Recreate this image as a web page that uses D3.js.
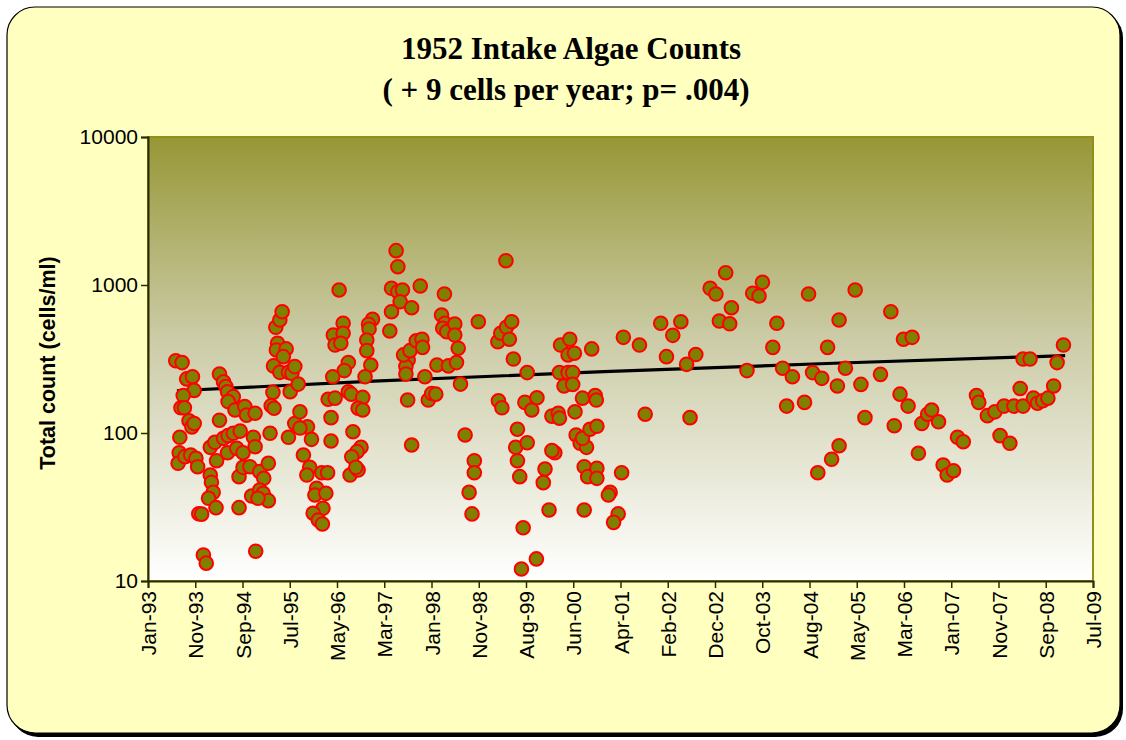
<!DOCTYPE html>
<html>
<head>
<meta charset="utf-8">
<script src="https://cdn.jsdelivr.net/npm/d3@7"></script>
<style>
  html, body { margin: 0; padding: 0; background: #ffffff; }
  svg { display: block; }
</style>
</head>
<body>
<svg id="chart" width="1126" height="740"></svg>
<script>
// ---------------- DATA ----------------
const titleLines = ["1952 Intake Algae Counts", "( + 9 cells per year; p= .004)"];
const yAxisTitle = "Total count (cells/ml)";

const xTickLabels = ["Jan-93","Nov-93","Sep-94","Jul-95","May-96","Mar-97","Jan-98","Nov-98","Aug-99","Jun-00",
  "Apr-01","Feb-02","Dec-02","Oct-03","Aug-04","May-05","Mar-06","Jan-07","Nov-07","Sep-08","Jul-09"];
const yTickValues = [10, 100, 1000, 10000];

// sample dates (decimal years) and total counts (cells/ml)
const sampleYears = [
  1993.56,1993.67,1993.75,1993.85,1993.88,1993.69,1993.65,1993.71,1993.79,1993.84,1993.88,1993.63,1993.62,1993.60,
  1993.72,1993.82,1993.91,1993.94,1993.96,1994.01,1994.04,1994.09,1994.16,1994.18,1994.21,1994.13,1994.26,1994.16,
  1994.24,1994.27,1994.32,1994.32,1994.39,1994.43,1994.46,1994.56,1994.47,1994.59,1994.39,1994.47,1994.56,1994.68,
  1994.46,1994.62,1994.73,1994.76,1994.79,1994.94,1994.91,1994.94,1994.66,1994.73,1994.85,1994.66,1994.95,1995.02,
  1995.09,1995.17,1994.88,1995.02,1995.08,1995.17,1994.99,1995.25,1995.22,1995.27,1995.20,1995.30,1995.37,1995.41,
  1995.33,1995.31,1995.48,1995.43,1995.26,1995.37,1995.52,1995.58,1995.55,1995.52,1995.63,
  1997.39,1997.42,1996.40,1997.31,1997.42,1997.50,1997.46,1997.31,1997.66,1997.81,1998.23,1997.28,1996.47,1996.30,
  1996.47,1996.33,1996.43,1996.98,1996.91,1996.92,1996.88,1996.88,1996.56,1996.49,1996.29,1996.95,1996.85,1995.63,
  1995.69,1996.21,1996.33,1996.56,1996.61,1996.81,1996.73,1996.81,1996.26,1995.72,1996.64,1996.26,1995.85,1995.72,
  1995.92,1995.78,1995.89,1995.84,1996.10,1996.20,1996.01,1995.98,1996.17,1996.12,1995.95,1996.04,1996.11,1996.78,
  1996.71,1996.62,1996.59,1996.73,1996.69,1997.60,1997.56,1997.52,1997.56,1997.63,1997.74,1997.84,1997.85,1997.89,
  1997.59,1997.66,1997.95,1998.01,1998.08,1998.10,1998.18,1998.24,1998.20,1998.27,1998.30,
  1999.30,1998.41,1998.41,1998.47,1998.44,1998.51,1998.82,1999.16,1999.21,1999.31,1999.40,1999.36,1999.43,1999.67,
  1999.17,1999.23,1999.63,1999.75,1999.84,1998.59,1998.75,1998.75,1998.66,1998.71,1999.50,1999.47,1999.67,1999.50,
  1999.54,1999.60,1999.57,1999.83,1999.98,1999.95,2000.05,2000.10,2000.21,2000.23,2000.15,2000.10,2000.25,2000.41,
  2000.38,2000.49,2000.23,2000.38,2000.46,2000.31,2000.46,2000.79,2000.63,2000.85,2000.50,2000.52,2000.59,2000.70,
  2000.63,2000.76,2000.88,2000.66,2000.72,2000.88,2000.88,2000.66,2000.87,
  2001.34,2001.62,2001.72,2001.31,2001.11,2001.08,2001.25,2001.17,2001.99,2002.34,2002.20,2002.09,2002.60,2002.44,
  2002.50,2002.85,2002.95,2003.12,2003.22,2003.01,2003.19,2003.49,
  2003.59,2003.76,2003.70,2004.01,2003.94,2004.11,2004.28,2004.18,2004.49,2004.56,2004.63,2004.79,2004.89,2005.09,
  2005.20,2005.06,2004.72,2004.96,2005.09,2005.37,2005.47,2005.54,2005.81,2005.99,2006.05,2006.15,
  2006.21,2006.36,2006.29,2006.47,2006.53,2006.63,2006.70,2006.82,2006.90,2006.97,2007.08,2007.15,2007.25,2007.48,
  2007.52,2007.67,2007.80,2007.89,2008.06,2007.96,2008.13,2008.29,2008.24,2008.29,2008.41,2008.47,2008.54,2008.63,
  2008.72,2008.82,2008.88,2008.99
];
const cellCounts = [
  308,299,232,240,194,179,148,148,121,110,116,93.5,73.6,62.4,
  69.2,71,67.5,59.2,28.5,28.3,15.0,13.2,52,46.4,39.7,36.2,31.3,80,
  86.5,65,122,250,222,206,190,176,163,143,92,96,99.5,103,
  73.6,78.8,73.6,151,132,136,93.5,80.8,50.7,58.6,59.2,31.3,15.9,54.8,
  49.4,62.4,37.5,41.2,39.1,34.9,36.2,188,153,147,99.5,518,580,660,
  404,364,370,328,284,257,257,253,190,93.5,116,
  1706,1329,925,950,901,925,771,660,702,985,869,489,551,459,
  472,393,404,587,543,504,425,360,299,264,240,288,240,281,
  214,169,172,190,183,174,147,143,127,139,102,88.3,110,108,
  90.6,71,58.6,52,53.9,53.9,42.3,38.1,39.1,31,28.7,25.8,24.3,80,
  74.8,69,52,56.2,58.6,311,281,337,250,360,420,430,379,240,
  167,83,167,185,183,288,627,551,510,484,284,
  1460,545,459,374,299,214,565,414,472,518,565,430,316,256,
  165,148,161,143,173,97,65,53.9,39.7,28.4,106,80,86,65,
  50.7,22.9,12.05,14.1,57.1,46.2,30.2,130,136,126,73.6,76,393,430,
  337,346,256,256,256,208,213,370,172,179,139,97,85.2,80,
  92,106,111,59.2,50.7,57.7,49.4,30.2,167,
  443,393,134,53.9,39.7,38.1,28.4,24.9,551,565,457,328,339,291,
  127,950,869,1211,702,571,547,264,
  879,1043,843,551,379,274,240,152,161,869,256,234,379,580,
  274,208,53.9,66.4,82,925,213,127,249,660,112,183,
  430,443,152,72.9,116,134,143,119,60.8,52,55.6,93.5,87.3,179,
  161,131,139,96,85.2,152,152,152,200,316,316,172,159,165,
  172,208,299,393
];

// linear trend line
const trendYears = [1993.58, 1997.0, 2001.0, 2005.0, 2009.02];
const trendCounts = [193, 224, 260, 296, 333];

// ---------------- HELPERS ----------------
function yearToDate(y) {
  const Y = Math.floor(y);
  const s = Date.UTC(Y, 0, 1), e = Date.UTC(Y + 1, 0, 1);
  return new Date(s + (y - Y) * (e - s));
}
const DAY = 86400000;
const axisStart = new Date(Date.UTC(1993, 0, 29));
const tickStepDays = 300;
const tickDates = xTickLabels.map((_, i) => new Date(axisStart.getTime() + i * tickStepDays * DAY));

// ---------------- LAYOUT ----------------
const svg = d3.select("#chart");
const plot = { left: 148, right: 1093, top: 137, bottom: 581 };

const defs = svg.append("defs");
const grad = defs.append("linearGradient").attr("id", "plotGrad")
  .attr("x1", 0).attr("y1", 0).attr("x2", 0).attr("y2", 1);
grad.append("stop").attr("offset", "0%").attr("stop-color", "#979736");
grad.append("stop").attr("offset", "45%").attr("stop-color", "#cbcba6");
grad.append("stop").attr("offset", "100%").attr("stop-color", "#ffffff");

// chart area: shadow + rounded panel
svg.append("rect").attr("x", 10).attr("y", 10).attr("width", 1113).attr("height", 727)
  .attr("rx", 28).attr("ry", 28).attr("fill", "#000");
svg.append("rect").attr("x", 7).attr("y", 7).attr("width", 1113).attr("height", 726)
  .attr("rx", 28).attr("ry", 28).attr("fill", "#ffffc0").attr("stroke", "#000").attr("stroke-width", 1.2);

// scales
const x = d3.scaleTime()
  .domain([tickDates[0], tickDates[tickDates.length - 1]])
  .range([plot.left, plot.right]);
const y = d3.scaleLog().domain([10, 10000]).range([plot.bottom, plot.top]);

// plot background
svg.append("rect")
  .attr("x", plot.left).attr("y", plot.top)
  .attr("width", plot.right - plot.left).attr("height", plot.bottom - plot.top)
  .attr("fill", "url(#plotGrad)")
  .attr("stroke", "#8f8f1c").attr("stroke-width", 2);

// trend line
const line = d3.line().x(d => x(yearToDate(d[0]))).y(d => y(d[1]));
svg.append("path")
  .datum(trendYears.map((t, i) => [t, trendCounts[i]]))
  .attr("d", line)
  .attr("fill", "none").attr("stroke", "#000").attr("stroke-width", 3.2);

// points
const pts = sampleYears.map((t, i) => ({ t, v: cellCounts[i] }));
svg.append("g").selectAll("circle").data(pts).join("circle")
  .attr("cx", d => x(yearToDate(d.t)))
  .attr("cy", d => y(d.v))
  .attr("r", 6.8)
  .attr("fill", "#808000")
  .attr("stroke", "#ff0000")
  .attr("stroke-width", 2);

// axes
const fontFam = "'Liberation Sans', Arial, sans-serif";
const yAxis = svg.append("g").attr("transform", `translate(${plot.left},0)`)
  .call(d3.axisLeft(y).tickValues(yTickValues).tickFormat(d3.format("d")).tickSize(7).tickPadding(3));
const xAxis = svg.append("g").attr("transform", `translate(0,${plot.bottom})`)
  .call(d3.axisBottom(x).tickValues(tickDates).tickFormat((d, i) => xTickLabels[i]).tickSize(7));

[yAxis, xAxis].forEach(g => {
  g.select(".domain").attr("stroke", "#2b2b00").attr("stroke-width", 2);
  g.selectAll(".tick line").attr("stroke", "#2b2b00").attr("stroke-width", 1.5);
  g.selectAll("text").attr("fill", "#000").style("font-family", fontFam).style("font-size", "21px");
});
xAxis.selectAll("text")
  .attr("transform", "rotate(-90)")
  .attr("x", -10).attr("y", 0).attr("dy", "0.36em")
  .style("text-anchor", "end");

// titles
const serif = "'Liberation Serif', 'Times New Roman', serif";
svg.append("text").attr("x", 571).attr("y", 59)
  .attr("text-anchor", "middle")
  .style("font-family", serif)
  .style("font-weight", "bold").style("font-size", "31px")
  .text(titleLines[0]);
svg.append("text").attr("x", 566).attr("y", 100)
  .attr("text-anchor", "middle")
  .style("font-family", serif)
  .style("font-weight", "bold").style("font-size", "31px")
  .text(titleLines[1]);

svg.append("text")
  .attr("transform", "translate(55,363) rotate(-90)")
  .attr("text-anchor", "middle")
  .style("font-family", fontFam)
  .style("font-weight", "bold").style("font-size", "21.5px")
  .text(yAxisTitle);
</script>
</body>
</html>
